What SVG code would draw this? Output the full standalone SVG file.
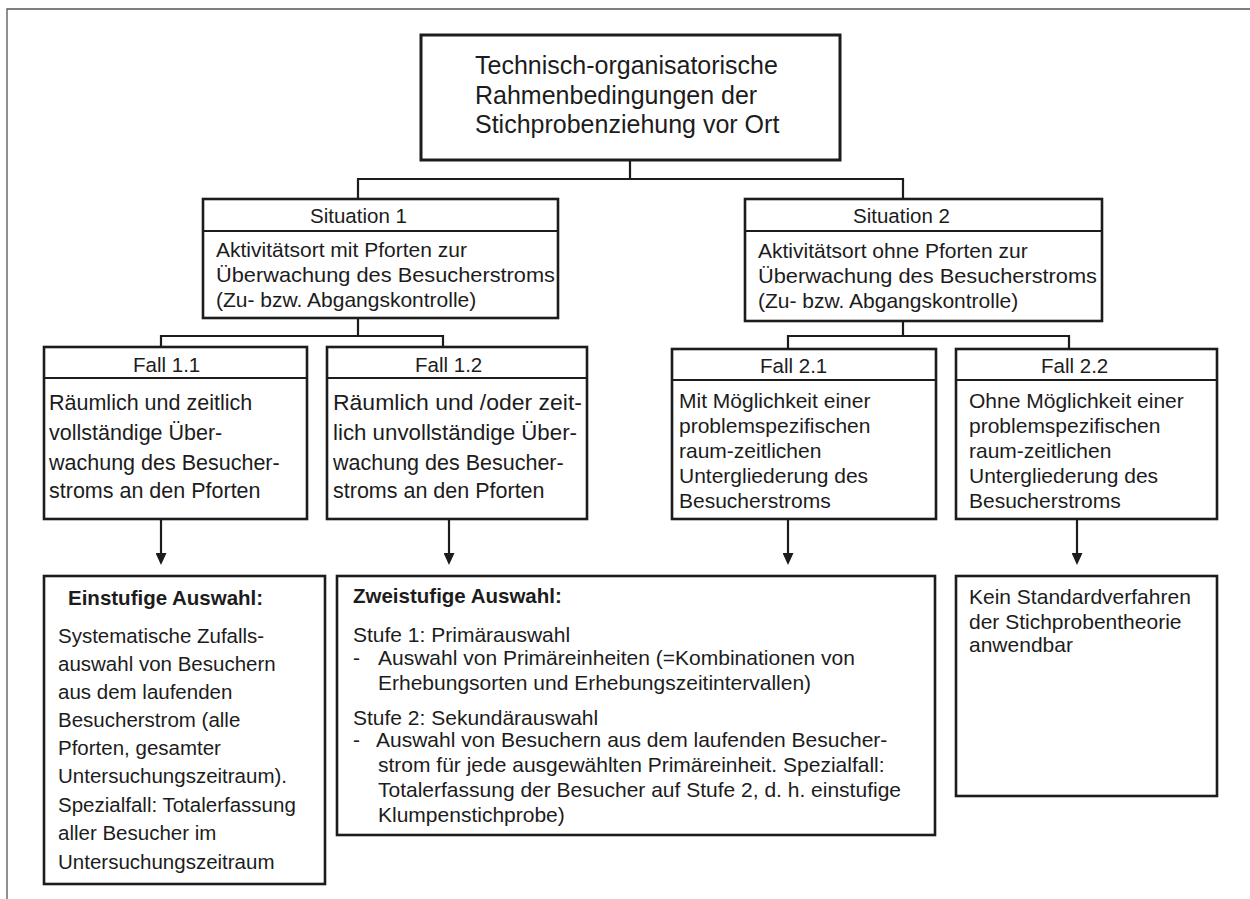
<svg xmlns="http://www.w3.org/2000/svg" width="1250" height="899" viewBox="0 0 1250 899">
<style>
.frame{fill:none;stroke:#555;stroke-width:1.3}
.box{fill:#fff;stroke:#1c1c1c;stroke-width:2.6}
.sep{stroke:#1c1c1c;stroke-width:2}
.con{fill:none;stroke:#1c1c1c;stroke-width:2.2}
text{font-family:"Liberation Sans",Arial,sans-serif;fill:#1c1c1c}
.t{font-size:25px}
.h{font-size:20.5px}
.b{font-size:21px}
.f{font-size:21.5px}
.bold{font-size:20.5px;font-weight:bold}
</style>
<defs>
<marker id="ah" markerUnits="userSpaceOnUse" markerWidth="12" markerHeight="11" refX="4" refY="5.5" orient="auto">
<path d="M0,0 L12,5.5 L0,11 z" fill="#1c1c1c"/>
</marker>
</defs>
<path class="frame" d="M1250,9 H7 V899"/>
<g id="connectors">
<path class="con" d="M630,160 V179 M358,199 V179 H903 V199"/>
<path class="con" d="M358,318 V336 M161,347 V336 H443 V347"/>
<path class="con" d="M903,321 V336 M788,349 V336 H1069 V349"/>
<line class="con" x1="161" y1="519" x2="161" y2="557" marker-end="url(#ah)"/>
<line class="con" x1="449" y1="519" x2="449" y2="557" marker-end="url(#ah)"/>
<line class="con" x1="788" y1="519" x2="788" y2="557" marker-end="url(#ah)"/>
<line class="con" x1="1077" y1="519" x2="1077" y2="557" marker-end="url(#ah)"/>
</g>
<g id="root">
<rect class="box" x="421" y="35" width="419" height="125" style="stroke-width:3"/>
<text class="t" x="475" y="74">Technisch-organisatorische</text>
<text class="t" x="475" y="103.5">Rahmenbedingungen der</text>
<text class="t" x="475" y="133">Stichprobenziehung vor Ort</text>
</g>
<g id="situation1">
<rect class="box" x="203" y="199" width="355" height="119"/>
<line class="sep" x1="203" y1="231" x2="558" y2="231"/>
<text class="h" x="310" y="223">Situation 1</text>
<text class="b" x="216" y="257">Aktivitätsort mit Pforten zur</text>
<text class="b" x="216" y="282" textLength="339" lengthAdjust="spacingAndGlyphs">Überwachung des Besucherstroms</text>
<text class="b" x="216" y="307">(Zu- bzw. Abgangskontrolle)</text>
</g>
<g id="situation2">
<rect class="box" x="745" y="199" width="357" height="122"/>
<line class="sep" x1="745" y1="231" x2="1102" y2="231"/>
<text class="h" x="853" y="223">Situation 2</text>
<text class="b" x="758" y="258">Aktivitätsort ohne Pforten zur</text>
<text class="b" x="758" y="283" textLength="339" lengthAdjust="spacingAndGlyphs">Überwachung des Besucherstroms</text>
<text class="b" x="758" y="308">(Zu- bzw. Abgangskontrolle)</text>
</g>
<g id="fall11">
<rect class="box" x="44" y="347" width="263" height="172"/>
<line class="sep" x1="44" y1="378" x2="307" y2="378"/>
<text class="h" x="133" y="372">Fall 1.1</text>
<text class="f" x="49" y="410">Räumlich und zeitlich</text>
<text class="f" x="49" y="440">vollständige Über-</text>
<text class="f" x="49" y="470">wachung des Besucher-</text>
<text class="f" x="49" y="498">stroms an den Pforten</text>
</g>
<g id="fall12">
<rect class="box" x="327" y="347" width="260" height="172"/>
<line class="sep" x1="327" y1="378" x2="587" y2="378"/>
<text class="h" x="415" y="372">Fall 1.2</text>
<text class="f" x="333" y="410" textLength="249" lengthAdjust="spacingAndGlyphs">Räumlich und /oder zeit-</text>
<text class="f" x="333" y="440" textLength="244" lengthAdjust="spacingAndGlyphs">lich unvollständige Über-</text>
<text class="f" x="333" y="470">wachung des Besucher-</text>
<text class="f" x="333" y="498">stroms an den Pforten</text>
</g>
<g id="fall21">
<rect class="box" x="672" y="349" width="264" height="170"/>
<line class="sep" x1="672" y1="380" x2="936" y2="380"/>
<text class="h" x="760" y="373">Fall 2.1</text>
<text class="b" x="679" y="408">Mit Möglichkeit einer</text>
<text class="b" x="679" y="433">problemspezifischen</text>
<text class="b" x="679" y="458">raum-zeitlichen</text>
<text class="b" x="679" y="483">Untergliederung des</text>
<text class="b" x="679" y="508">Besucherstroms</text>
</g>
<g id="fall22">
<rect class="box" x="956" y="349" width="261" height="170"/>
<line class="sep" x1="956" y1="380" x2="1217" y2="380"/>
<text class="h" x="1041" y="373">Fall 2.2</text>
<text class="b" x="969" y="408">Ohne Möglichkeit einer</text>
<text class="b" x="969" y="433">problemspezifischen</text>
<text class="b" x="969" y="458">raum-zeitlichen</text>
<text class="b" x="969" y="483">Untergliederung des</text>
<text class="b" x="969" y="508">Besucherstroms</text>
</g>
<g id="einstufig">
<rect class="box" x="44" y="576" width="281" height="308"/>
<text class="bold" x="68" y="605">Einstufige Auswahl:</text>
<text class="h" x="58" y="643">Systematische Zufalls-</text>
<text class="h" x="58" y="671">auswahl von Besuchern</text>
<text class="h" x="58" y="699">aus dem laufenden</text>
<text class="h" x="58" y="727">Besucherstrom (alle</text>
<text class="h" x="58" y="755">Pforten, gesamter</text>
<text class="h" x="58" y="783">Untersuchungszeitraum).</text>
<text class="h" x="58" y="812">Spezialfall: Totalerfassung</text>
<text class="h" x="58" y="840">aller Besucher im</text>
<text class="h" x="58" y="869">Untersuchungszeitraum</text>
</g>
<g id="zweistufig">
<rect class="box" x="337" y="576" width="598" height="259"/>
<text class="bold" x="353" y="603">Zweistufige Auswahl:</text>
<text class="b" x="353" y="642">Stufe 1: Primärauswahl</text>
<text class="b" x="353" y="665">-</text>
<text class="b" x="378" y="665">Auswahl von Primäreinheiten (=Kombinationen von</text>
<text class="b" x="378" y="690">Erhebungsorten und Erhebungszeitintervallen)</text>
<text class="b" x="353" y="725">Stufe 2: Sekundärauswahl</text>
<text class="b" x="353" y="747">-</text>
<text class="b" x="376" y="747">Auswahl von Besuchern aus dem laufenden Besucher-</text>
<text class="b" x="378" y="772">strom für jede ausgewählten Primäreinheit. Spezialfall:</text>
<text class="b" x="378" y="797">Totalerfassung der Besucher auf Stufe 2, d. h. einstufige</text>
<text class="b" x="378" y="822">Klumpenstichprobe)</text>
</g>
<g id="kein">
<rect class="box" x="956" y="576" width="261" height="220"/>
<text class="b" x="969" y="604">Kein Standardverfahren</text>
<text class="b" x="969" y="629">der Stichprobentheorie</text>
<text class="b" x="969" y="652">anwendbar</text>
</g>
</svg>
